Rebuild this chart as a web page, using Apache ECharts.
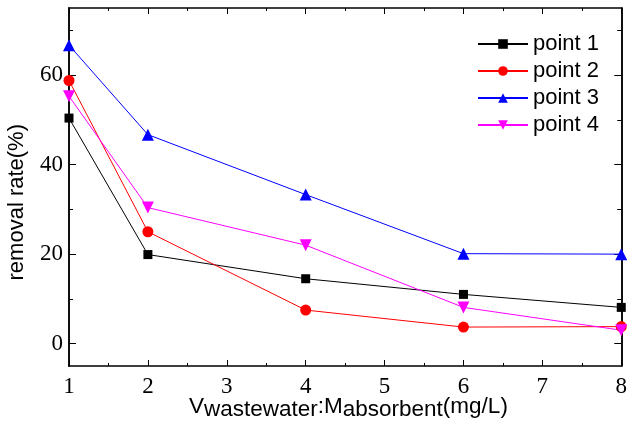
<!DOCTYPE html>
<html>
<head>
<meta charset="utf-8">
<script src="https://cdn.jsdelivr.net/npm/echarts@6/dist/echarts.min.js"></script>
<style>
  html, body { margin: 0; padding: 0; background: #fff; }
</style>
</head>
<body>
<div id="chart" style="width: 630px; height: 425px;"></div>
<script>
// ratio V(wastewater):M(absorbent)
const ratios = [1, 2, 4, 6, 8];
const point1 = [50.4, 19.9, 14.5, 11.0, 8.1];
const point2 = [58.8, 25.0, 7.5, 3.7, 3.8];
const point3 = [66.7, 46.7, 33.3, 20.1, 20.0];
const point4 = [55.3, 30.4, 22.0, 8.1, 3.0];
const yLabels = [0, 20, 40, 60];
const yMinor = [10, 30, 50, 70];

const chart = echarts.init(document.getElementById('chart'));

const serif = 'Liberation Serif, Times New Roman, serif';
const sans = 'Liberation Sans, Arial, sans-serif';

const pairs = (ys) => ratios.map((x, i) => [x, ys[i]]);

const mkSeries = (name, data, color, symbol, size, rotate) => ({
  name: name,
  type: 'line',
  data: pairs(data),
  symbol: symbol,
  symbolSize: size,
  symbolRotate: rotate || 0,
  lineStyle: { color: color, width: 1 },
  itemStyle: { color: color },
  emphasis: { disabled: true }
});

const baseY = {
  type: 'value',
  min: -5,
  max: 75,
  splitLine: { show: false },
  axisLine: { show: true, onZero: false, lineStyle: { color: '#000', width: 1.5 } }
};

const option = {
  animation: false,
  grid: { left: 69, right: 6, top: 8, bottom: 59 },
  legend: {
    orient: 'vertical',
    left: 472,
    top: 28,
    itemWidth: 50,
    itemHeight: 12,
    itemGap: 5,
    textStyle: { fontFamily: sans, fontSize: 22, color: '#000', lineHeight: 22 },
    data: ['point 1', 'point 2', 'point 3', 'point 4']
  },
  xAxis: [
    {
      type: 'value', min: 1, max: 8, interval: 1, position: 'bottom',
      splitLine: { show: false },
      axisLine: { onZero: false, lineStyle: { color: '#000', width: 1.5 } },
      axisTick: { inside: true, length: 6, lineStyle: { color: '#000' } },
      minorTick: { show: true, splitNumber: 2, length: 3, lineStyle: { color: '#000' } },
      axisLabel: { margin: 9, fontFamily: serif, fontSize: 23, color: '#000' }
    },
    {
      type: 'value', min: 1, max: 8, interval: 1, position: 'top',
      splitLine: { show: false },
      axisLine: { onZero: false, lineStyle: { color: '#000', width: 1.5 } },
      axisTick: { inside: true, length: 6, lineStyle: { color: '#000' } },
      minorTick: { show: true, splitNumber: 2, length: 3, lineStyle: { color: '#000' } },
      axisLabel: { show: false }
    }
  ],
  yAxis: [
    Object.assign({}, baseY, {
      position: 'left',
      axisTick: { inside: true, length: 7, customValues: yLabels, lineStyle: { color: '#000' } },
      axisLabel: { customValues: yLabels, margin: 6, fontFamily: serif, fontSize: 23, color: '#000' }
    }),
    Object.assign({}, baseY, {
      position: 'left',
      axisTick: { inside: true, length: 4, customValues: yMinor, lineStyle: { color: '#000' } },
      axisLabel: { show: false }
    }),
    Object.assign({}, baseY, {
      position: 'right',
      axisTick: { inside: true, length: 7, customValues: yLabels, lineStyle: { color: '#000' } },
      axisLabel: { show: false }
    }),
    Object.assign({}, baseY, {
      position: 'right',
      axisTick: { inside: true, length: 4, customValues: yMinor, lineStyle: { color: '#000' } },
      axisLabel: { show: false }
    })
  ],
  graphic: [
    {
      type: 'text',
      left: 6,
      top: 124,
      rotation: Math.PI / 2,
      style: { text: 'removal rate(%)', font: '22px ' + sans, fill: '#000' }
    },
    {
      type: 'text',
      left: 189,
      top: 390,
      style: {
        text: '{m|V}{s|wastewater}{m|:M}{s|absorbent}{m|(mg/L)}',
        fill: '#000',
        rich: {
          m: { fontFamily: sans, fontSize: 22.5, lineHeight: 26, verticalAlign: 'top' },
          s: { fontFamily: sans, fontSize: 22.5, lineHeight: 26, verticalAlign: 'bottom', padding: [8, 0, 0, 0] }
        }
      }
    }
  ],
  series: [
    mkSeries('point 1', point1, '#000000', 'rect', 9),
    mkSeries('point 2', point2, '#ff0000', 'circle', 11),
    mkSeries('point 3', point3, '#0000ff', 'triangle', 12),
    mkSeries('point 4', point4, '#ff00ff', 'triangle', 12, 180)
  ]
};

chart.setOption(option);
</script>
</body>
</html>
